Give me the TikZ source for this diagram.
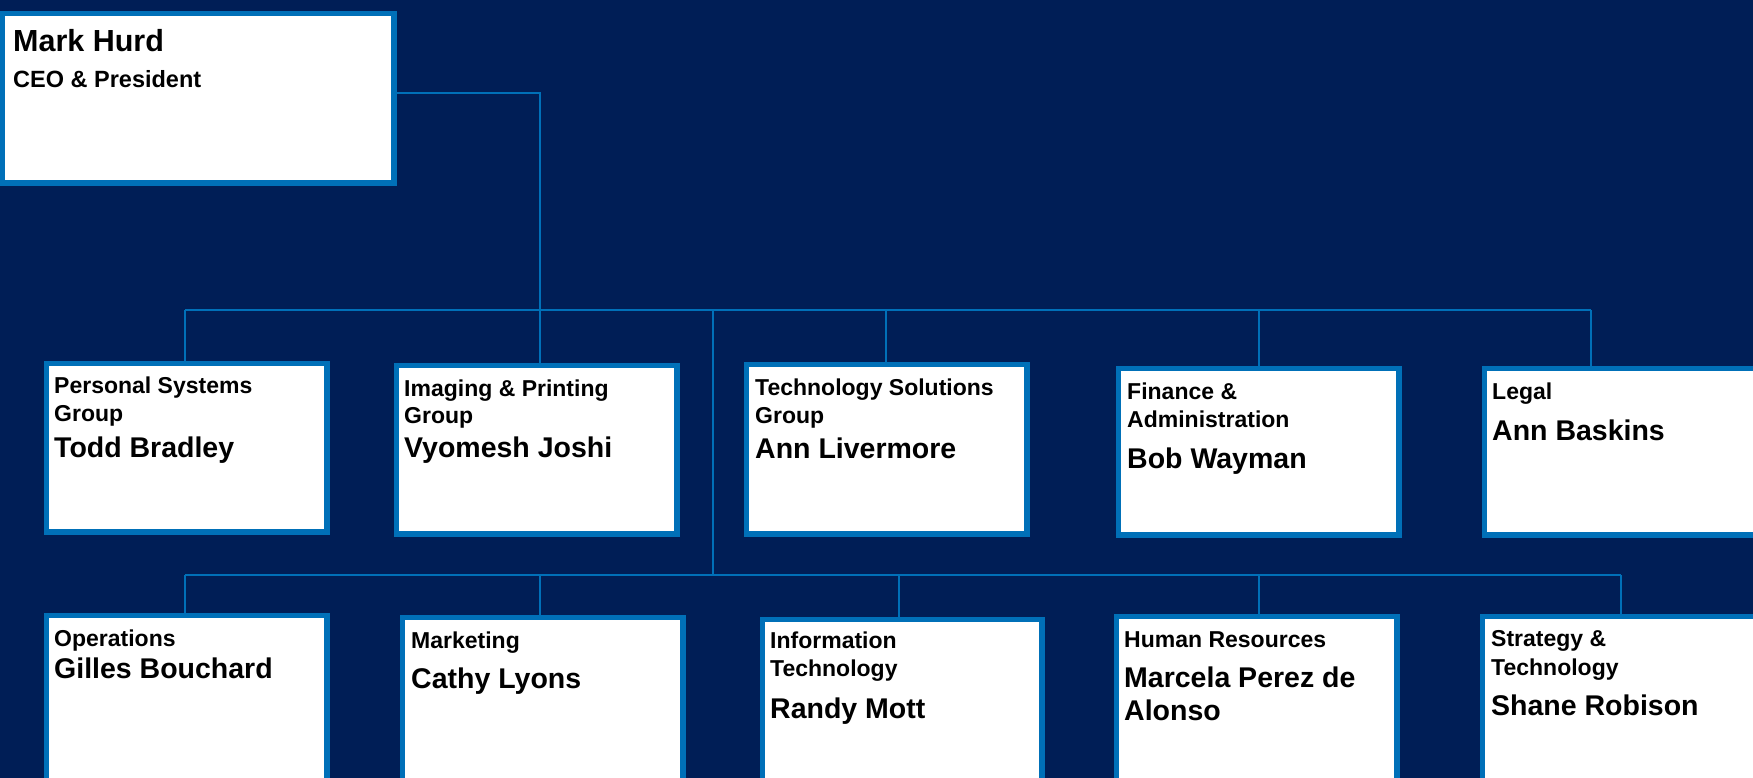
\documentclass[tikz,border=0pt]{standalone}
\usepackage{fontspec}
\setmainfont{Liberation Sans}
\definecolor{bg}{HTML}{001E56}
\definecolor{hpblue}{HTML}{0070B8}
\begin{document}
\begin{tikzpicture}[x=1pt,y=-1pt,
  box/.style={draw=hpblue, fill=white, line width=5.5pt, anchor=north west, inner sep=0pt},
  lab/.style={anchor=base west, inner sep=0pt, font=\fontsize{23}{23}\selectfont\bfseries},
  nm/.style={anchor=base west, inner sep=0pt, font=\fontsize{28.5}{28.5}\selectfont\bfseries},
  conn/.style={draw=hpblue, line width=2.3pt}]
\useasboundingbox (0,0) rectangle (1753,778);
\fill[bg] (0,0) rectangle (1753,778);
\clip (0,0) rectangle (1753,778);

% junction coordinates
\coordinate (c0) at (540,93);
\coordinate (j0) at (540,310);
\coordinate (r1L) at (185,310);
\coordinate (r1R) at (1591,310);
\coordinate (d2) at (886,310);
\coordinate (d3) at (1259,310);
\coordinate (v1) at (713,310);
\coordinate (v2) at (713,575);
\coordinate (r2L) at (185,575);
\coordinate (r2R) at (1621,575);
\coordinate (e2) at (540,575);
\coordinate (e3) at (899,575);
\coordinate (e4) at (1259,575);

% boxes
\node[box, minimum width=391.5, minimum height=169.5] (ceo) at (-0.25,10.75) {};
\node[box, minimum width=280.5, minimum height=168.5] (psg) at (43.75,360.75) {};
\node[box, minimum width=280.5, minimum height=168.5] (ipg) at (393.75,362.75) {};
\node[box, minimum width=280.5, minimum height=169.5] (tsg) at (743.75,361.75) {};
\node[box, minimum width=280.5, minimum height=166.5] (fa) at (1115.75,365.75) {};
\node[box, minimum width=280.5, minimum height=166.5] (legal) at (1481.75,365.75) {};
\node[box, minimum width=280.5, minimum height=180] (ops) at (43.75,612.75) {};
\node[box, minimum width=280.5, minimum height=180] (mkt) at (399.75,614.75) {};
\node[box, minimum width=279.5, minimum height=180] (it) at (759.75,616.75) {};
\node[box, minimum width=280.5, minimum height=180] (hr) at (1113.75,613.75) {};
\node[box, minimum width=280.5, minimum height=180] (st) at (1479.75,613.75) {};

% connectors
\draw[conn] (ceo.east |- c0) -- (c0) -- (j0);
\draw[conn] (r1L) -- (r1R);
\draw[conn] (r1L) -- (r1L |- psg.north);
\draw[conn] (j0) -- (j0 |- ipg.north);
\draw[conn] (d2) -- (d2 |- tsg.north);
\draw[conn] (d3) -- (d3 |- fa.north);
\draw[conn] (r1R) -- (r1R |- legal.north);
\draw[conn] (v1) -- (v2);
\draw[conn] (r2L) -- (r2R);
\draw[conn] (r2L) -- (r2L |- ops.north);
\draw[conn] (e2) -- (e2 |- mkt.north);
\draw[conn] (e3) -- (e3 |- it.north);
\draw[conn] (e4) -- (e4 |- hr.north);
\draw[conn] (r2R) -- (r2R |- st.north);

% texts
\node[anchor=base west, inner sep=0pt, font=\fontsize{30.5}{30.5}\selectfont\bfseries] (t0a) at (13,52) {Mark Hurd};
\node[anchor=base west, inner sep=0pt, font=\fontsize{23.5}{23.5}\selectfont\bfseries] (t0b) at (13,88) {CEO \& President};

\node[lab] (t1a) at (54,393) {Personal Systems};
\node[lab] (t1b) at (54,421) {Group};
\node[nm]  (t1c) at (54,457) {Todd Bradley};

\node[lab] (t2a) at (404,396) {Imaging \& Printing};
\node[lab] (t2b) at (404,423) {Group};
\node[nm]  (t2c) at (404,457) {Vyomesh Joshi};

\node[lab] (t3a) at (755,395) {Technology Solutions};
\node[lab] (t3b) at (755,423) {Group};
\node[nm]  (t3c) at (755,458) {Ann Livermore};

\node[lab] (t4a) at (1127,399) {Finance \&};
\node[lab] (t4b) at (1127,427) {Administration};
\node[nm]  (t4c) at (1127,468) {Bob Wayman};

\node[lab] (t5a) at (1492,399) {Legal};
\node[nm]  (t5b) at (1492,440) {Ann Baskins};

\node[lab] (t6a) at (54,646) {Operations};
\node[nm]  (t6b) at (54,678) {Gilles Bouchard};

\node[lab] (t7a) at (411,648) {Marketing};
\node[nm]  (t7b) at (411,688) {Cathy Lyons};

\node[lab] (t8a) at (770,648) {Information};
\node[lab] (t8b) at (770,676) {Technology};
\node[nm]  (t8c) at (770,718) {Randy Mott};

\node[lab] (t9a) at (1124,647) {Human Resources};
\node[nm]  (t9b) at (1124,687) {Marcela Perez de};
\node[nm]  (t9c) at (1124,720) {Alonso};

\node[lab] (t10a) at (1491,646) {Strategy \&};
\node[lab] (t10b) at (1491,675) {Technology};
\node[nm]  (t10c) at (1491,715) {Shane Robison};
\end{tikzpicture}
\end{document}
